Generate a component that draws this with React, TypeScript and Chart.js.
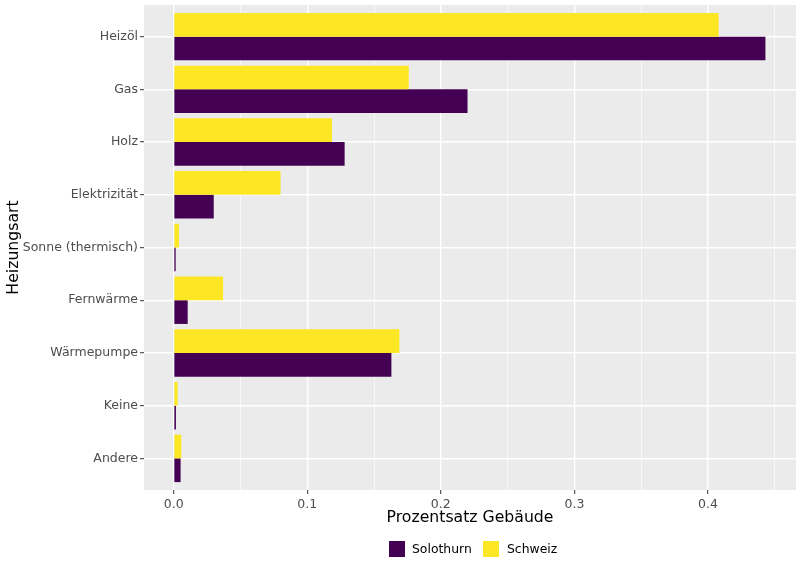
import React, { useEffect, useRef } from "react";
import { Chart, registerables } from "chart.js";

Chart.register(...registerables);

const categories = ["Heizöl", "Gas", "Holz", "Elektrizität", "Sonne (thermisch)", "Fernwärme", "Wärmepumpe", "Keine", "Andere"];
const solothurn = [0.443, 0.22, 0.128, 0.03, 0.0015, 0.0105, 0.163, 0.0017, 0.0052];
const schweiz = [0.408, 0.176, 0.1185, 0.08, 0.004, 0.037, 0.169, 0.003, 0.0057];
const xMajorTicks = [0, 0.1, 0.2, 0.3, 0.4];
const xMinorTicks = [0.05, 0.15, 0.25, 0.35, 0.45];

const PURPLE = "#440154";
const YELLOW = "#FDE725";
const FONT = "'DejaVu Sans', sans-serif";

const isMajor = (v: number) => xMajorTicks.some((m) => Math.abs(m - v) < 1e-9);

export default function App() {
  const ref = useRef<HTMLCanvasElement | null>(null);

  useEffect(() => {
    if (!ref.current) return;
    const bgPlugin = {
      id: "panelBg",
      beforeDraw(chart: any) {
        const { ctx, chartArea } = chart;
        ctx.save();
        ctx.fillStyle = "#EBEBEB";
        ctx.fillRect(chartArea.left, chartArea.top, chartArea.right - chartArea.left, chartArea.bottom - chartArea.top);
        ctx.restore();
      },
    };
    const chart = new Chart(ref.current, {
      type: "bar",
      data: {
        datasets: [
          {
            label: "Schweiz",
            data: schweiz.map((v, i) => ({ x: v, y: i })),
            backgroundColor: YELLOW,
            borderWidth: 0,
          },
          {
            label: "Solothurn",
            data: solothurn.map((v, i) => ({ x: v, y: i })),
            backgroundColor: PURPLE,
            borderWidth: 0,
          },
        ],
      },
      plugins: [bgPlugin],
      options: {
        indexAxis: "y",
        animation: false,
        responsive: false,
        maintainAspectRatio: false,
        categoryPercentage: 0.9,
        barPercentage: 1.0,
        layout: { padding: { left: 0, top: 5, right: 4, bottom: 38 } },
        plugins: {
          legend: { display: false },
          tooltip: { enabled: false },
        },
        scales: {
          x: {
            type: "linear",
            min: -0.0222,
            max: 0.4659,
            offset: false,
            afterBuildTicks: (scale: any) => {
              scale.ticks = [...xMajorTicks, ...xMinorTicks].sort((a, b) => a - b).map((v) => ({ value: v }));
            },
            afterFit: (scale: any) => {
              scale.height = 41;
              scale.paddingLeft = 0;
              scale.paddingRight = 0;
            },
            border: { display: false },
            grid: {
              offset: false,
              color: "#FFFFFF",
              lineWidth: (ctx: any) => (ctx.tick && isMajor(ctx.tick.value) ? 1.4 : 0.6),
              tickColor: (ctx: any) => (ctx.tick && isMajor(ctx.tick.value) ? "#333333" : "rgba(0,0,0,0)"),
              tickLength: 4,
              tickWidth: 1,
            },
            ticks: {
              autoSkip: false,
              maxRotation: 0,
              padding: 3,
              color: "#4D4D4D",
              font: { family: FONT, size: 12.5 },
              callback: (v: any) => (isMajor(Number(v)) ? Number(v).toFixed(1) : ""),
            },
            title: {
              display: true,
              text: "Prozentsatz Gebäude",
              color: "#000000",
              font: { family: FONT, size: 15.7 },
              padding: { top: 4, bottom: 4 },
            },
          },
          y: {
            type: "linear",
            reverse: true,
            min: -0.6,
            max: 8.6,
            offset: false,
            afterBuildTicks: (scale: any) => {
              scale.ticks = categories.map((_, i) => ({ value: i }));
            },
            afterFit: (scale: any) => {
              scale.width = 144;
              scale.paddingTop = 0;
              scale.paddingBottom = 0;
            },
            border: { display: false },
            grid: {
              offset: false,
              color: "#FFFFFF",
              lineWidth: 1.4,
              tickColor: "#333333",
              tickLength: 4,
              tickWidth: 1,
            },
            ticks: {
              autoSkip: false,
              padding: 2,
              color: "#4D4D4D",
              font: { family: FONT, size: 12.5 },
              callback: (v: any) => categories[Math.round(Number(v))] ?? "",
            },
            title: {
              display: true,
              text: "Heizungsart",
              color: "#000000",
              font: { family: FONT, size: 15.7 },
              padding: { top: 5, bottom: 4 },
            },
          },
        },
      },
    } as any);
    return () => chart.destroy();
  }, []);

  const legendText: React.CSSProperties = {
    position: "absolute",
    fontFamily: FONT,
    fontSize: 12.4,
    color: "#000",
    lineHeight: "16px",
    top: 541,
  };

  return (
    <div style={{ position: "fixed", left: 0, top: 0, width: 800, height: 569, background: "#fff" }}>
      <canvas ref={ref} width={800} height={569} style={{ position: "absolute", left: 0, top: 0, width: 800, height: 569 }} />
      <div style={{ position: "absolute", left: 389, top: 541, width: 16, height: 16, background: PURPLE }} />
      <div style={{ ...legendText, left: 412 }}>Solothurn</div>
      <div style={{ position: "absolute", left: 483, top: 541, width: 16, height: 16, background: YELLOW }} />
      <div style={{ ...legendText, left: 507 }}>Schweiz</div>
    </div>
  );
}
